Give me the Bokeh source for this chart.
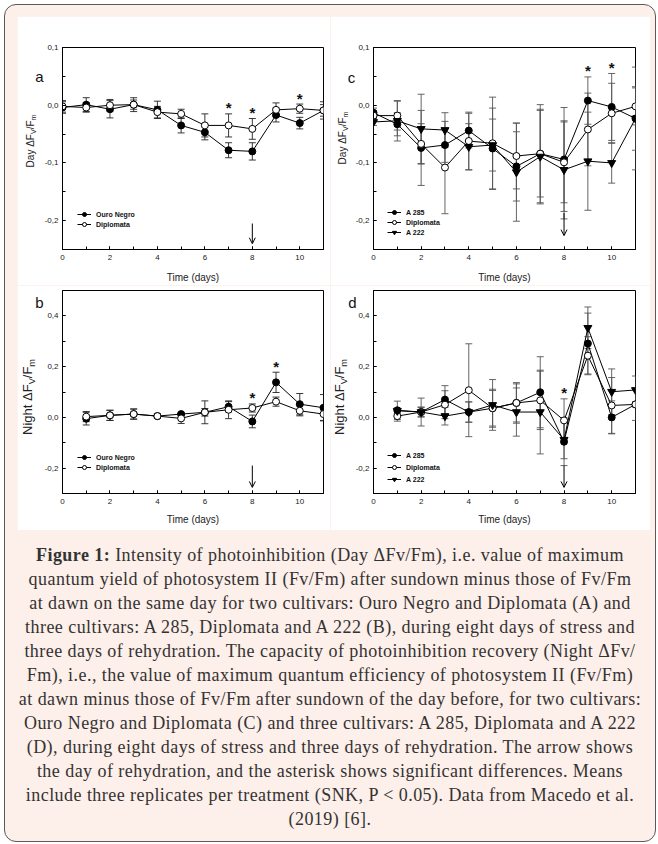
from bokeh.plotting import figure
from bokeh.models import (ColumnDataSource, Whisker, TeeHead, Arrow, OpenHead,
                          Legend, LegendItem, SingleIntervalTicker, CustomJSTickFormatter,
                          Range1d, Div)
from bokeh.layouts import column, row
from bokeh.embed import file_html
from bokeh.resources import INLINE
from bokeh.core.properties import value

# ---------------- data ----------------
days_day = list(range(0, 12))
days_night = list(range(1, 12))

# panel a: Day dFv/Fm, Ouro Negro vs Diplomata
a_ouro = [-0.004, 0.001, -0.007, 0.001, -0.008, -0.035, -0.047, -0.078, -0.080, -0.017, -0.031, -0.009]
a_ouro_err = [0.010, 0.012, 0.015, 0.012, 0.015, 0.013, 0.013, 0.013, 0.015, 0.012, 0.010, 0.015]
a_dipl = [-0.002, -0.004, 0.000, 0.001, -0.012, -0.015, -0.035, -0.035, -0.041, -0.008, -0.006, -0.009]
a_dipl_err = [0.010, 0.008, 0.010, 0.008, 0.010, 0.008, 0.020, 0.020, 0.018, 0.012, 0.008, 0.010]
a_sig = [7, 8, 10]

# panel b: Night dFv/Fm, Ouro Negro vs Diplomata
b_ouro = [-0.005, 0.008, 0.013, 0.005, 0.013, 0.020, 0.042, -0.016, 0.138, 0.052, 0.038]
b_ouro_err = [0.025, 0.020, 0.020, 0.008, 0.005, 0.015, 0.020, 0.025, 0.040, 0.042, 0.052]
b_dipl = [0.003, 0.008, 0.013, 0.005, -0.004, 0.020, 0.030, 0.037, 0.062, 0.026, 0.013]
b_dipl_err = [0.020, 0.020, 0.020, 0.008, 0.020, 0.045, 0.035, 0.016, 0.018, 0.020, 0.025]
b_sig = [8, 9]

# panel c: Day dFv/Fm, A 285 / Diplomata / A 222
c_a285 = [-0.013, -0.033, -0.074, -0.069, -0.044, -0.075, -0.106, -0.084, -0.094, 0.008, -0.003, -0.023]
c_a285_err = [0.008, 0.020, 0.065, 0.030, 0.030, 0.070, 0.060, 0.085, 0.090, 0.041, 0.058, 0.089]
c_dipl = [-0.018, -0.018, -0.067, -0.108, -0.062, -0.066, -0.088, -0.084, -0.099, -0.042, -0.014, -0.002]
c_dipl_err = [0.008, 0.025, 0.035, 0.080, 0.050, 0.080, 0.057, 0.075, 0.070, 0.063, 0.052, 0.032]
c_a222 = [-0.029, -0.027, -0.041, -0.043, -0.072, -0.069, -0.116, -0.089, -0.112, -0.097, -0.100, -0.023]
c_a222_err = [0.006, 0.035, 0.060, 0.030, 0.040, 0.045, 0.085, 0.082, 0.085, 0.085, 0.035, 0.055]
c_sig = [9, 10]

# panel d: Night dFv/Fm, A 285 / Diplomata / A 222
d_a285 = [0.028, 0.021, 0.070, 0.021, 0.036, 0.057, 0.099, -0.096, 0.291, 0.000, 0.051]
d_a285_err = [0.036, 0.020, 0.055, 0.040, 0.070, 0.080, 0.140, 0.094, 0.120, 0.065, 0.063]
d_dipl = [0.005, 0.021, 0.050, 0.107, 0.036, 0.057, 0.067, -0.012, 0.243, 0.047, 0.051]
d_dipl_err = [0.020, 0.018, 0.055, 0.183, 0.075, 0.075, 0.115, 0.085, 0.075, 0.110, 0.010]
d_a222 = [0.026, 0.021, 0.005, 0.021, 0.049, 0.021, 0.021, -0.088, 0.353, 0.101, 0.108]
d_a222_err = [0.010, 0.055, 0.035, 0.040, 0.100, 0.095, 0.165, 0.075, 0.082, 0.090, 0.055]
d_sig = [8]

rehydration_day = 8
arrow_day = (-0.205, -0.240)
arrow_day_c = (-0.187, -0.226)
arrow_night = (-0.19, -0.276)

x_range_days = (0, 11)
y_range_day = (-0.25, 0.1)
y_range_night = (-0.3, 0.5)

FONT = "Liberation Sans"

comma_fmt = CustomJSTickFormatter(code="""
const v = Math.abs(tick) < 1e-9 ? 0 : tick;
return v.toFixed(1).replace('.', ',');
""")


def make_fig(w, h, yr, yint, bl, br, bt, bb, title_standoff):
    p = figure(width=w, height=h, x_range=Range1d(*x_range_days), y_range=Range1d(*yr),
               output_backend="svg", toolbar_location=None,
               min_border_left=bl, min_border_right=br, min_border_top=bt, min_border_bottom=bb)
    p.xgrid.visible = False
    p.ygrid.visible = False
    p.outline_line_color = "black"
    p.outline_line_width = 1
    p.background_fill_color = "white"
    p.border_fill_color = "white"
    xa = p.xaxis[0]
    xa.ticker = SingleIntervalTicker(interval=2, num_minor_ticks=2)
    ya = p.yaxis[0]
    ya.ticker = SingleIntervalTicker(interval=yint, num_minor_ticks=2)
    ya.formatter = comma_fmt
    for ax in (xa, ya):
        ax.major_tick_in = 3
        ax.major_tick_out = 0
        ax.minor_tick_in = 3
        ax.minor_tick_out = 0
        ax.axis_line_color = "black"
        ax.major_tick_line_color = "black"
        ax.minor_tick_line_color = "black"
        ax.major_label_text_font = FONT
        ax.major_label_text_font_size = "8px"
        ax.major_label_text_color = "#222"
    xa.major_label_standoff = 5
    ya.major_label_standoff = 4
    xa.axis_label = "Time (days)"
    xa.axis_label_text_font = FONT
    xa.axis_label_text_font_size = "10px"
    xa.axis_label_text_font_style = "normal"
    xa.axis_label_text_color = "#222"
    xa.axis_label_standoff = title_standoff
    return p


def series(p, xs, ys, errs, wcolor):
    src = ColumnDataSource(dict(x=xs, y=ys, lo=[v - e for v, e in zip(ys, errs)],
                                hi=[v + e for v, e in zip(ys, errs)]))
    p.add_layout(Whisker(source=src, base="x", lower="lo", upper="hi",
                         line_color=wcolor, line_width=0.9,
                         lower_head=TeeHead(size=7, line_color=wcolor, line_width=0.9),
                         upper_head=TeeHead(size=7, line_color=wcolor, line_width=0.9)))
    return src


def draw(p, xs, ys, marker, fill, size):
    ln = p.line(xs, ys, line_color="black", line_width=1)
    sc = p.scatter(xs, ys, marker=marker, size=size, fill_color=fill, line_color="black",
                   line_width=1)
    return ln, sc


def stars(p, xs, sig, series_list):
    sx, sy = [], []
    for d in sig:
        i = xs.index(d)
        sx.append(d)
        sy.append(max(v[i] + e[i] for v, e in series_list))
    p.text(sx, sy, text=["*"] * len(sx), text_font=value(FONT), text_font_size="15px",
           text_font_style="bold", text_align="center", text_baseline="alphabetic",
           y_offset=-6, text_color="#111")


def arrow(p, ys):
    p.add_layout(Arrow(x_start=rehydration_day, y_start=ys[0], x_end=rehydration_day, y_end=ys[1],
                       line_color="black", line_width=1,
                       end=OpenHead(size=6, line_color="black", line_width=1)))


def legend(p, items, loc, spacing):
    lg = Legend(items=[LegendItem(label=l, renderers=list(r)) for l, r in items],
                location=loc, orientation="vertical", border_line_color=None,
                background_fill_alpha=0, label_text_font=FONT, label_text_font_size="7px",
                label_text_font_style="bold", label_text_color="#111",
                glyph_height=10, glyph_width=14, label_height=10, spacing=spacing,
                padding=0, margin=0, label_standoff=5)
    p.add_layout(lg)


# ---------------- panel a ----------------
pa = make_fig(313, 269, y_range_day, 0.1, 45, 7, 31, 36, 9)
series(pa, days_day, a_ouro, a_ouro_err, "#222")
series(pa, days_day, a_dipl, a_dipl_err, "#222")
ra1 = draw(pa, days_day, a_ouro, "circle", "black", 7)
ra2 = draw(pa, days_day, a_dipl, "circle", "white", 7)
stars(pa, days_day, a_sig, [(a_ouro, a_ouro_err), (a_dipl, a_dipl_err)])
arrow(pa, arrow_day)
legend(pa, [("Ouro Negro", ra1), ("Diplomata", ra2)], (15, 20), 0)

# ---------------- panel c ----------------
pc = make_fig(320, 269, y_range_day, 0.1, 43, 15, 31, 36, 9)
for ys, es in ((c_a285, c_a285_err), (c_dipl, c_dipl_err), (c_a222, c_a222_err)):
    series(pc, days_day, ys, es, "#555")
rc1 = draw(pc, days_day, c_a285, "circle", "black", 7)
rc2 = draw(pc, days_day, c_dipl, "circle", "white", 7)
rc3 = draw(pc, days_day, c_a222, "inverted_triangle", "black", 8)
stars(pc, days_day, c_sig, [(c_a285, c_a285_err), (c_dipl, c_dipl_err), (c_a222, c_a222_err)])
arrow(pc, arrow_day_c)
legend(pc, [("A 285", rc1), ("Diplomata", rc2), ("A 222", rc3)], (14, 12), 0)

# ---------------- panel b ----------------
pb = make_fig(313, 245, y_range_night, 0.2, 45, 7, 5, 37, 7)
series(pb, days_night, b_ouro, b_ouro_err, "#222")
series(pb, days_night, b_dipl, b_dipl_err, "#222")
rb1 = draw(pb, days_night, b_ouro, "circle", "black", 7)
rb2 = draw(pb, days_night, b_dipl, "circle", "white", 7)
stars(pb, days_night, b_sig, [(b_ouro, b_ouro_err), (b_dipl, b_dipl_err)])
arrow(pb, arrow_night)
legend(pb, [("Ouro Negro", rb1), ("Diplomata", rb2)], (15, 21), 0)

# ---------------- panel d ----------------
pd_ = make_fig(320, 245, y_range_night, 0.2, 43, 15, 5, 37, 7)
for ys, es in ((d_a285, d_a285_err), (d_dipl, d_dipl_err), (d_a222, d_a222_err)):
    series(pd_, days_night, ys, es, "#555")
rd1 = draw(pd_, days_night, d_a285, "circle", "black", 7)
rd2 = draw(pd_, days_night, d_dipl, "circle", "white", 7)
rd3 = draw(pd_, days_night, d_a222, "inverted_triangle", "black", 8)
stars(pd_, days_night, d_sig, [(d_a285, d_a285_err), (d_dipl, d_dipl_err), (d_a222, d_a222_err)])
arrow(pd_, arrow_night)
legend(pd_, [("A 285", rd1), ("Diplomata", rd2), ("A 222", rd3)], (14, 9), 2)

# ---------------- overlay texts (y-axis titles and panel letters) ----------------
ORIGIN = 9.5  # effective origin of absolutely positioned children on the page


def overlay(inner_html, cx, cy):
    return Div(text=inner_html, width=1, height=1,
               styles={"position": "absolute", "left": f"{cx - ORIGIN}px",
                       "top": f"{cy - ORIGIN}px", "overflow": "visible", "z-index": "5"})


def ytitle(word, cx, cy, fs):
    sub = fs * 0.7
    html = (f'<div style="position:absolute;left:0;top:0;transform:translate(-50%,-50%) rotate(-90deg);'
            f'white-space:nowrap;font-family:\'Liberation Sans\';font-size:{fs}px;line-height:1;color:#222">'
            f'{word} \u0394F<span style="font-size:{sub:.1f}px;position:relative;top:{fs*0.22:.1f}px">V</span>'
            f'/F<span style="font-size:{sub:.1f}px;position:relative;top:{fs*0.22:.1f}px">m</span></div>')
    return overlay(html, cx, cy)


def panel_letter(txt, cx, cy):
    html = (f'<div style="position:absolute;left:0;top:0;transform:translate(-50%,-50%);'
            f'font-family:\'Liberation Sans\';font-size:15px;line-height:1;color:#111">{txt}</div>')
    return overlay(html, cx, cy - 1.3)


overlays = [
    ytitle("Day", 30, 140, 10), ytitle("Day", 342, 137, 10),
    ytitle("Night", 27, 396, 13), ytitle("Night", 339, 396, 13),
    panel_letter("a", 39, 77), panel_letter("c", 351, 78),
    panel_letter("b", 39, 303), panel_letter("d", 352, 303),
]

# ---------------- caption ----------------
caption_lines = [
    "<b>Figure 1:</b> Intensity of photoinhibition (Day \u0394Fv/Fm), i.e. value of maximum",
    "quantum yield of photosystem II (Fv/Fm) after sundown minus those of Fv/Fm",
    "at dawn on the same day for two cultivars: Ouro Negro and Diplomata (A) and",
    "three cultivars: A 285, Diplomata and A 222 (B), during eight days of stress and",
    "three days of rehydration. The capacity of photoinhibition recovery (Night \u0394Fv/",
    "Fm), i.e., the value of maximum quantum efficiency of photosystem II (Fv/Fm)",
    "at dawn minus those of Fv/Fm after sundown of the day before, for two cultivars:",
    "Ouro Negro and Diplomata (C) and three cultivars: A 285, Diplomata and A 222",
    "(D), during eight days of stress and three days of rehydration. The arrow shows",
    "the day of rehydration, and the asterisk shows significant differences. Means",
    "include three replicates per treatment (SNK, P &lt; 0.05). Data from Macedo et al.",
    "(2019) [6].",
]
cap = Div(text="<br>".join(caption_lines), width=640, height=292, margin=(13, 0, 0, 5),
          styles={"font-family": "Liberation Serif", "font-size": "18px", "line-height": "24px",
                  "text-align": "center", "color": "#333", "white-space": "nowrap",
                  "letter-spacing": "0.45px"})

grid = column(row(pa, pc), row(pb, pd_), margin=(11, 0, 0, 12))
root = column(grid, cap, *overlays, width=652, height=838, margin=(4, 0, 0, 4),
              styles={"background-color": "#fdefe9", "border": "1.5px solid #5a5a5a",
                      "border-radius": "12px", "box-sizing": "border-box",
                      "position": "relative"})

open("out.html", "w").write(file_html(root, INLINE))
